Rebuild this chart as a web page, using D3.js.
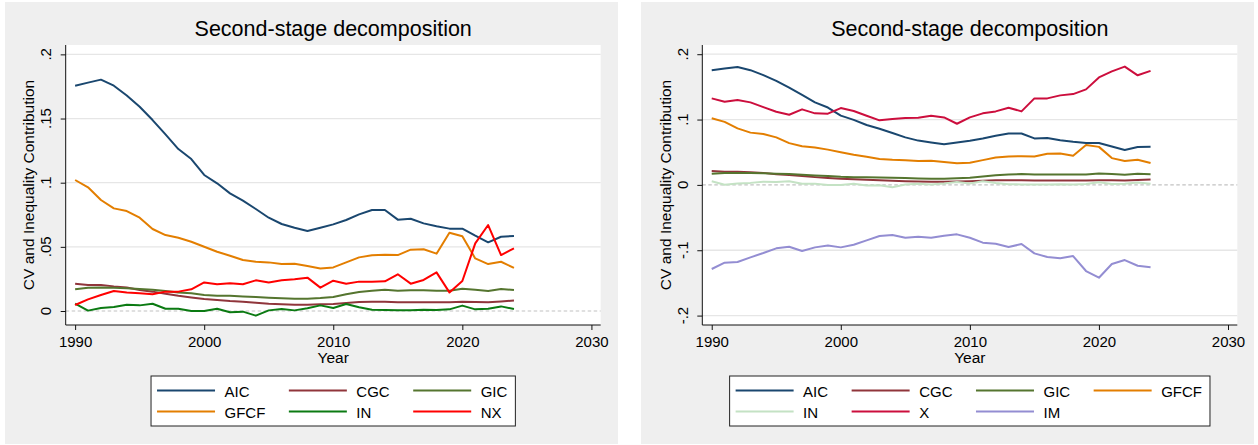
<!DOCTYPE html>
<html>
<head>
<meta charset="utf-8">
<script src="https://cdn.jsdelivr.net/npm/d3@7"></script>
<style>
body { margin: 0; background: #fff; }
svg { display: block; font-family: "Liberation Sans", Arial, sans-serif; }
</style>
</head>
<body>
<svg id="chart"></svg>
<script>
// Years on the x axis
var years = [1990, 1991, 1992, 1993, 1994, 1995, 1996, 1997, 1998, 1999,
             2000, 2001, 2002, 2003, 2004, 2005, 2006, 2007, 2008, 2009,
             2010, 2011, 2012, 2013, 2014, 2015, 2016, 2017, 2018, 2019,
             2020, 2021, 2022, 2023, 2024];

// Contributions
var AIC = [.1756, .1780, .1803, .1756, .1680, .1592, .1488, .1377, .1262, .1184,
           .1060, .0995, .0917, .0860, .0795, .0727, .0678, .0649, .0623, .0649,
           .0675, .0709, .0753, .0787, .0787, .0712, .0719, .0683, .0660, .0642,
           .0642, .0587, .0535, .0579, .0584];
var CGC = [.0213, .0203, .0203, .0192, .0184, .0164, .0151, .0135, .0119, .0106,
           .0094, .0086, .0078, .0073, .0065, .0057, .0052, .0049, .0049, .0052,
           .0055, .0062, .0070, .0073, .0073, .0068, .0068, .0068, .0068, .0068,
           .0073, .0070, .0068, .0075, .0081];
var GIC = [.0169, .0182, .0184, .0182, .0177, .0171, .0166, .0156, .0145, .0138,
           .0125, .0119, .0119, .0114, .0109, .0104, .0099, .0096, .0096, .0101,
           .0109, .0130, .0148, .0158, .0166, .0158, .0161, .0161, .0158, .0158,
           .0174, .0166, .0156, .0171, .0164];
var GFCF = [.1021, .0964, .0865, .0800, .0779, .0727, .0639, .0592, .0571, .0540,
            .0501, .0462, .0431, .0397, .0384, .0379, .0366, .0368, .0351, .0332,
            .0340, .0379, .0418, .0434, .0439, .0436, .0478, .0481, .0447, .0610,
            .0582, .0410, .0366, .0384, .0336];
var IN = [.0057, .0003, .0023, .0031, .0049, .0044, .0057, .0018, .0018, .0000,
          .0000, .0018, -.0010, -.0005, -.0036, .0005, .0016, .0005, .0021, .0044,
          .0023, .0055, .0029, .0010, .0008, .0005, .0005, .0010, .0008, .0013,
          .0042, .0013, .0018, .0036, .0016];
var NX = [.0047, .0091, .0125, .0156, .0145, .0138, .0130, .0151, .0151, .0169,
          .0223, .0208, .0216, .0208, .0239, .0223, .0239, .0247, .0260, .0182,
          .0236, .0213, .0229, .0229, .0231, .0286, .0213, .0242, .0301, .0145,
          .0234, .0527, .0670, .0436, .0488];
var X = [.1324, .1273, .1298, .1263, .1191, .1120, .1074, .1156, .1095, .1090,
         .1176, .1130, .1059, .0988, .1008, .1023, .1028, .1059, .1033, .0936,
         .1033, .1095, .1125, .1181, .1125, .1324, .1324, .1370, .1390, .1462,
         .1645, .1737, .1810, .1677, .1745];
var IM = [-.1287, -.1190, -.1180, -.1109, -.1043, -.0971, -.0946, -.1012, -.0956, -.0926,
          -.0956, -.0915, -.0849, -.0783, -.0767, -.0808, -.0793, -.0808, -.0777, -.0757,
          -.0808, -.0884, -.0900, -.0951, -.0905, -.1048, -.1104, -.1124, -.1089, -.1318,
          -.1420, -.1211, -.1150, -.1237, -.1261];

// Tick labels
var xTicks = [1990, 2000, 2010, 2020, 2030];
var yTicksLeft = [0, .05, .1, .15, .2];
var yTicksRight = [-.2, -.1, 0, .1, .2];

var w = 1258;
var h = 445;

var svg = d3.select("#chart")
    .attr("width", w)
    .attr("height", h);

// Stata-like colours
var navy = "#1a476f", maroon = "#90353b", forest = "#55752f", orange = "#e37e00";

var panels = [
    {
        left: 5, plotLeft: 65.7, yDomain: [-0.0109, 0.2073], yTicks: yTicksLeft, cols: 3,
        series: [
            { name: "AIC", values: AIC, color: navy },
            { name: "CGC", values: CGC, color: maroon },
            { name: "GIC", values: GIC, color: forest },
            { name: "GFCF", values: GFCF, color: orange },
            { name: "IN", values: IN, color: "#0b7a12" },
            { name: "NX", values: NX, color: "#ff0000" }
        ]
    },
    {
        left: 641, plotLeft: 702.3, yDomain: [-0.2144, 0.2141], yTicks: yTicksRight, cols: 4,
        series: [
            { name: "AIC", values: AIC, color: navy },
            { name: "CGC", values: CGC, color: maroon },
            { name: "GIC", values: GIC, color: forest },
            { name: "GFCF", values: GFCF, color: orange },
            { name: "IN", values: IN, color: "#c4e2c4" },
            { name: "X", values: X, color: "#cc0e3d" },
            { name: "IM", values: IM, color: "#938dd2" }
        ]
    }
];

function fmtTick(v) {
    return v === 0 ? "0" : String(v).replace("0.", ".");
}

function drawPanel(p) {
    var plotW = 535, top = 45, bottom = 325;
    var x0 = p.plotLeft, x1 = p.plotLeft + plotW;
    var cx = (x0 + x1) / 2;

    // graph region
    svg.append("rect")
        .attr("x", p.left).attr("y", 2)
        .attr("width", 613).attr("height", 442)
        .attr("fill", "#efefef");

    // plot region
    svg.append("rect")
        .attr("x", x0).attr("y", top)
        .attr("width", plotW).attr("height", bottom - top)
        .attr("fill", "#fff");

    var x = d3.scaleLinear().domain([1989.27, 2030.72]).range([x0, x1]);
    var y = d3.scaleLinear().domain(p.yDomain).range([bottom, top]);

    var g = svg.append("g");

    // gridlines
    g.selectAll(".grid")
        .data(p.yTicks.filter(function (d) { return d !== 0; }))
        .enter().append("line")
        .attr("x1", x0).attr("x2", x1)
        .attr("y1", function (d) { return y(d); })
        .attr("y2", function (d) { return y(d); })
        .attr("stroke", "#e6e6e6")
        .attr("stroke-width", 1.3);

    // dashed zero line
    g.append("line")
        .attr("x1", x0).attr("x2", x1)
        .attr("y1", y(0)).attr("y2", y(0))
        .attr("stroke", "#c2c2c2")
        .attr("stroke-width", 1.2)
        .attr("stroke-dasharray", "3.5,2.5");

    // series
    var line = d3.line()
        .x(function (d, i) { return x(years[i]); })
        .y(function (d) { return y(d); });

    g.selectAll(".series")
        .data(p.series)
        .enter().append("path")
        .attr("d", function (s) { return line(s.values); })
        .attr("fill", "none")
        .attr("stroke", function (s) { return s.color; })
        .attr("stroke-width", 2)
        .attr("stroke-linejoin", "round");

    // y axis
    var yAxis = d3.axisLeft(y)
        .tickValues(p.yTicks)
        .tickSize(5)
        .tickFormat("");
    var ya = svg.append("g")
        .attr("transform", "translate(" + x0 + ",0)")
        .call(yAxis);
    ya.select(".domain").attr("d", "M0," + top + "V" + bottom).attr("stroke", "#111");
    ya.selectAll(".tick line").attr("stroke", "#111");

    // rotated y tick labels
    svg.selectAll(null)
        .data(p.yTicks)
        .enter().append("text")
        .attr("transform", function (d) { return "translate(" + (x0 - 20) + "," + y(d) + ") rotate(-90)"; })
        .attr("text-anchor", "middle")
        .attr("dy", "0.35em")
        .attr("font-size", 15)
        .attr("fill", "#000")
        .text(fmtTick);

    // y axis title
    svg.append("text")
        .attr("transform", "translate(" + (x0 - 37) + "," + ((top + bottom) / 2) + ") rotate(-90)")
        .attr("text-anchor", "middle")
        .attr("dy", "0.35em")
        .attr("font-size", 15.5)
        .attr("fill", "#000")
        .text("CV and Inequality Contribution");

    // x axis
    var xAxis = d3.axisBottom(x)
        .tickValues(xTicks)
        .tickSize(5)
        .tickPadding(6)
        .tickFormat(d3.format("d"));
    var xa = svg.append("g")
        .attr("transform", "translate(0," + bottom + ")")
        .call(xAxis);
    xa.select(".domain").attr("d", "M" + x0 + ",0H" + x1).attr("stroke", "#111");
    xa.selectAll(".tick line").attr("stroke", "#111");
    xa.selectAll(".tick text")
        .attr("font-family", "Liberation Sans, Arial, sans-serif")
        .attr("font-size", 15)
        .attr("fill", "#000");

    svg.append("text")
        .attr("x", cx).attr("y", 363)
        .attr("text-anchor", "middle")
        .attr("font-size", 15.5)
        .attr("fill", "#000")
        .text("Year");

    // title
    svg.append("text")
        .attr("x", cx).attr("y", 36)
        .attr("text-anchor", "middle")
        .attr("font-size", 21.5)
        .attr("fill", "#000")
        .text("Second-stage decomposition");

    // legend
    var key = 58, gap = 9.5, colGap = 23.5, padL = 6, padR = 8;
    var leg = svg.append("g");
    var box = leg.append("rect")
        .attr("y", 376).attr("height", 50)
        .attr("fill", "#fff")
        .attr("stroke", "#222")
        .attr("stroke-width", 1);

    // measure label widths per column
    var labels = leg.selectAll("text")
        .data(p.series)
        .enter().append("text")
        .attr("font-size", 15)
        .attr("fill", "#000")
        .text(function (s) { return s.name; });

    var colW = [];
    labels.each(function (s, i) {
        var c = i % p.cols;
        colW[c] = Math.max(colW[c] || 0, this.getComputedTextLength());
    });

    var colX = [], acc = padL;
    for (var c = 0; c < p.cols; c++) {
        colX.push(acc);
        acc += key + gap + colW[c] + colGap;
    }
    var boxW = acc - colGap + padR;
    var bx = cx - boxW / 2;
    box.attr("x", bx).attr("width", boxW);

    labels
        .attr("x", function (s, i) { return bx + colX[i % p.cols] + key + gap; })
        .attr("y", function (s, i) { return 396.7 + Math.floor(i / p.cols) * 21; });

    leg.selectAll("line")
        .data(p.series)
        .enter().append("line")
        .attr("x1", function (s, i) { return bx + colX[i % p.cols]; })
        .attr("x2", function (s, i) { return bx + colX[i % p.cols] + key; })
        .attr("y1", function (s, i) { return 390.5 + Math.floor(i / p.cols) * 21; })
        .attr("y2", function (s, i) { return 390.5 + Math.floor(i / p.cols) * 21; })
        .attr("stroke", function (s) { return s.color; })
        .attr("stroke-width", 2);
}

panels.forEach(drawPanel);
</script>
</body>
</html>
